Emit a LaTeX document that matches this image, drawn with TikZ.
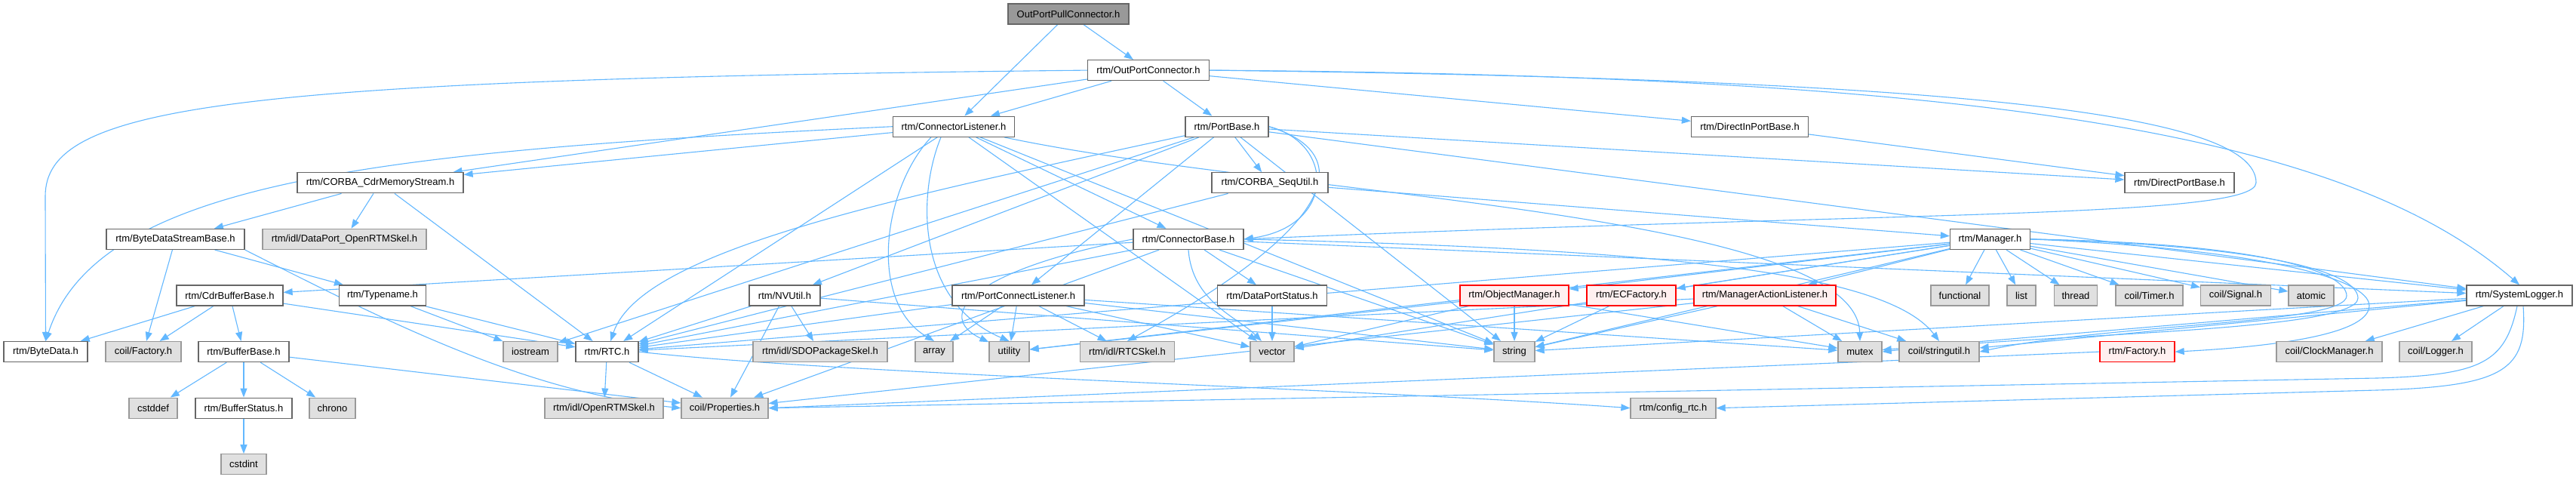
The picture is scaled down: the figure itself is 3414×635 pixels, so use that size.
\documentclass[tikz,border=0pt]{standalone}
\usepackage{fontspec}
\setmainfont{Liberation Sans}
\usetikzlibrary{arrows.meta,backgrounds}
\definecolor{edgeblue}{HTML}{63B8FF}
\definecolor{wborder}{HTML}{666666}
\definecolor{gfill}{HTML}{E0E0E0}
\definecolor{gborder}{HTML}{999999}
\definecolor{rfill}{HTML}{FFF0F0}
\definecolor{rborder}{HTML}{FF0000}
\definecolor{rootfill}{HTML}{999999}
\begin{document}
\begin{tikzpicture}[x=1pt,y=-1pt,
  nbase/.style={rectangle, minimum height=27pt, inner sep=0pt, font=\fontsize{13}{15}\selectfont, line width=1.3pt},
  wn/.style={nbase, draw=wborder, fill=white, minimum width=#1pt},
  gn/.style={nbase, draw=gborder, fill=gfill, minimum width=#1pt},
  rn/.style={nbase, draw=rborder, fill=rfill, minimum width=#1pt},
  rootn/.style={nbase, draw=wborder, fill=rootfill, minimum width=#1pt},
  lnk/.style={draw=edgeblue, line width=1.1pt, -{Triangle[length=12pt,width=9pt]}}]
\useasboundingbox (0,0) rectangle (3414,635);
% row 1
\node[rootn=160] (oppc) at (1416,18.5) {OutPortPullConnector.h};
% row 2
\node[wn=161] (opc) at (1522,93.1) {rtm/OutPortConnector.h};
% row 3
\node[wn=161] (cl) at (1264,167.7) {rtm/ConnectorListener.h};
\node[wn=110] (pb) at (1626,167.7) {rtm/PortBase.h};
\node[wn=155] (dipb) at (2319,167.7) {rtm/DirectInPortBase.h};
% row 4
\node[wn=220] (cdrms) at (504,242.3) {rtm/CORBA\_CdrMemoryStream.h};
\node[wn=154] (sequ) at (1683,242.3) {rtm/CORBA\_SeqUtil.h};
\node[wn=145] (dpb) at (2888.5,242.3) {rtm/DirectPortBase.h};
% row 5
\node[wn=183] (bdsb) at (232.5,316.9) {rtm/ByteDataStreamBase.h};
\node[gn=217] (dpskel) at (456.5,316.9) {rtm/idl/DataPort\_OpenRTMSkel.h};
\node[wn=146] (cb) at (1575,316.9) {rtm/ConnectorBase.h};
\node[wn=106] (mgr) at (2637.5,316.9) {rtm/Manager.h};
% row 6
\node[wn=141] (cbb) at (304.5,391.5) {rtm/CdrBufferBase.h};
\node[wn=115] (tn) at (507,391.5) {rtm/Typename.h};
\node[wn=94] (nvu) at (1040,391.5) {rtm/NVUtil.h};
\node[wn=175] (pcl) at (1349.5,391.5) {rtm/PortConnectListener.h};
\node[wn=145] (dps) at (1686,391.5) {rtm/DataPortStatus.h};
\node[rn=144] (om) at (2007,391.5) {rtm/ObjectManager.h};
\node[rn=118] (ecf) at (2162,391.5) {rtm/ECFactory.h};
\node[rn=188] (mal) at (2339,391.5) {rtm/ManagerActionListener.h};
\node[gn=77] (fun) at (2597.5,391.5) {functional};
\node[gn=38] (lst) at (2679,391.5) {list};
\node[gn=57] (thr) at (2751,391.5) {thread};
\node[gn=89] (tim) at (2848.5,391.5) {coil/Timer.h};
\node[gn=93] (sig) at (2963,391.5) {coil/Signal.h};
\node[gn=60] (ato) at (3063,391.5) {atomic};
\node[wn=140] (sl) at (3339,391.5) {rtm/SystemLogger.h};
% row 7
\node[wn=111] (bd) at (60.5,466.1) {rtm/ByteData.h};
\node[gn=100] (cfac) at (190,466.1) {coil/Factory.h};
\node[wn=120] (bb) at (323,466.1) {rtm/BufferBase.h};
\node[gn=72] (ios) at (703,466.1) {iostream};
\node[wn=83] (rtc) at (804.5,466.1) {rtm/RTC.h};
\node[gn=178] (sdo) at (1087,466.1) {rtm/idl/SDOPackageSkel.h};
\node[gn=50] (arr) at (1238,466.1) {array};
\node[gn=53] (uti) at (1337.5,466.1) {utility};
\node[gn=125] (rtcskel) at (1494,466.1) {rtm/idl/RTCSkel.h};
\node[gn=58] (vec) at (1686,466.1) {vector};
\node[gn=54] (str) at (2007,466.1) {string};
\node[gn=58] (mtx) at (2465,466.1) {mutex};
\node[gn=106] (su) at (2570,466.1) {coil/stringutil.h};
\node[rn=99] (rfac) at (2832.5,466.1) {rtm/Factory.h};
\node[gn=140] (clk) at (3087,466.1) {coil/ClockManager.h};
\node[gn=96] (lgr) at (3228,466.1) {coil/Logger.h};
% row 8
\node[gn=64] (cstddef) at (203,540.7) {cstddef};
\node[wn=128] (bs) at (323,540.7) {rtm/BufferStatus.h};
\node[gn=61] (chr) at (440.5,540.7) {chrono};
\node[gn=157] (ors) at (800.5,540.7) {rtm/idl/OpenRTMSkel.h};
\node[gn=115] (prop) at (960.5,540.7) {coil/Properties.h};
\node[gn=113] (cfg) at (2217.5,540.7) {rtm/config\_rtc.h};
% row 9
\node[gn=60] (cstdint) at (323,615.3) {cstdint};

\begin{pgfonlayer}{background}
\fill[white] (0,0) rectangle (3414,635);
% root
\draw[lnk] (oppc) -- (cl);
\draw[lnk] (oppc) -- (opc);
% OutPortConnector
\draw[lnk] (opc) -- (cl);
\draw[lnk] (opc) -- (pb);
\draw[lnk] (opc) -- (cdrms);
\draw[lnk] (opc.west) .. controls (300,105) and (60,140) .. (60,260) -- (bd.north);
\draw[lnk] (opc) -- (dipb);
\draw[lnk] (opc.east) .. controls (2600,100) and (3100,170) .. (sl.north);
\draw[lnk] (opc.east) .. controls (2600,105) and (2990,150) .. (2990,242) .. controls (2990,290) and (2500,280) .. (cb.east);
% ConnectorListener
\draw[lnk] (cl.west) .. controls (500,200) and (130,240) .. (bd.north);
\draw[lnk] (cl) -- (cdrms);
\draw[lnk] (cl) -- (rtc);
\draw[lnk] ([xshift=-30pt]cl.south) .. controls (1170,250) and (1150,400) .. (arr.north);
\draw[lnk] ([xshift=-17pt]cl.south) .. controls (1215,260) and (1215,400) .. (uti.north);
\draw[lnk] (cl) -- (vec);
\draw[lnk] (cl) -- (cb);
\draw[lnk] (cl) -- (str);
\draw[lnk] (cl) .. controls (1700,260) and (2460,280) .. (mtx.north);
% PortBase
\draw[lnk] (pb) -- (ios);
\draw[lnk] (pb) .. controls (1200,260) and (850,330) .. (rtc);
\draw[lnk] (pb) -- (nvu);
\draw[lnk] (pb) -- (pcl);
\draw[lnk] (pb) -- (sequ);
\draw[lnk] (pb) -- (dpb);
\draw[lnk] (pb.east) .. controls (1770,190) and (1770,300) .. (cb.east);
\draw[lnk] (pb.east) .. controls (1790,200) and (1790,290) .. (rtcskel.north);
\draw[lnk] (pb) -- (sl);
\draw[lnk] (pb) -- (str);
% DirectInPortBase
\draw[lnk] (dipb) -- (dpb);
% CORBA_SeqUtil
\draw[lnk] (sequ) -- (rtc);
\draw[lnk] (sequ) -- (mgr);
% CORBA_CdrMemoryStream
\draw[lnk] (cdrms) -- (bdsb);
\draw[lnk] (cdrms) -- (dpskel);
\draw[lnk] (cdrms) -- (rtc);
% ByteDataStreamBase
\draw[lnk] (bdsb) -- (cfac);
\draw[lnk] (bdsb) -- (tn);
\draw[lnk] (bdsb.south east) .. controls (520,430) and (700,520) .. (prop.west);
% ConnectorBase
\draw[lnk] (cb) -- (cbb);
\draw[lnk] (cb) -- (dps);
\draw[lnk] (cb.south) .. controls (1580,400) and (1640,420) .. (vec);
\draw[lnk] (cb) -- (rtc);
\draw[lnk] (cb) -- (prop);
\draw[lnk] (cb) -- (str);
\draw[lnk] (cb) -- (sl);
\draw[lnk] (cb.west) .. controls (1280,360) and (1240,420) .. (uti);
\draw[lnk] (cb.east) .. controls (2200,330) and (2500,360) .. (su.north);
% Manager
\draw[lnk] (mgr) -- (om);
\draw[lnk] (mgr) -- (ecf);
\draw[lnk] (mgr) -- (mal);
\draw[lnk] (mgr) -- (fun);
\draw[lnk] (mgr) -- (lst);
\draw[lnk] (mgr) -- (thr);
\draw[lnk] (mgr) -- (tim);
\draw[lnk] (mgr) -- (sig);
\draw[lnk] (mgr) -- (ato);
\draw[lnk] (mgr) -- (sl);
\draw[lnk] (mgr) -- (rtc);
\draw[lnk] (mgr) -- (vec);
\draw[lnk] (mgr) -- (str);
\draw[lnk] (mgr) -- (uti);
\draw[lnk] (mgr.east) .. controls (3000,322) and (3110,360) .. (3110,392) .. controls (3110,430) and (2800,428) .. (su.east);
\draw[lnk] (mgr.east) .. controls (3000,325) and (3125,360) .. (3125,395) .. controls (3125,440) and (2700,442) .. (mtx.east);
\draw[lnk] (mgr.east) .. controls (3000,330) and (3140,370) .. (3140,405) .. controls (3140,445) and (3000,460) .. (rfac.east);
% CdrBufferBase
\draw[lnk] (cbb) -- (bd);
\draw[lnk] (cbb) -- (cfac);
\draw[lnk] (cbb) -- (bb);
\draw[lnk] (cbb) -- (rtc);
% Typename
\draw[lnk] (tn) -- (rtc);
\draw[lnk] (tn) -- (ios);
% NVUtil
\draw[lnk] (nvu) -- (rtc);
\draw[lnk] (nvu) -- (prop);
\draw[lnk] (nvu) -- (sdo);
\draw[lnk] (nvu) -- (str);
% PortConnectListener
\draw[lnk] (pcl) -- (rtc);
\draw[lnk] (pcl) -- (arr);
\draw[lnk] (pcl) -- (uti);
\draw[lnk] (pcl) -- (rtcskel);
\draw[lnk] (pcl) -- (vec);
\draw[lnk] (pcl) -- (str);
\draw[lnk] (pcl) -- (mtx);
% DataPortStatus
\draw[lnk] (dps) -- (vec);
% ObjectManager
\draw[lnk] (om) -- (str);
\draw[lnk] (om) -- (vec);
\draw[lnk] (om) -- (mtx);
\draw[lnk] (om) -- (uti);
% ECFactory
\draw[lnk] (ecf) -- (str);
% ManagerActionListener
\draw[lnk] (mal) -- (str);
\draw[lnk] (mal) -- (mtx);
\draw[lnk] (mal) -- (su);
\draw[lnk] (mal) -- (prop);
\draw[lnk] (mal) -- (rtc);
% SystemLogger
\draw[lnk] (sl) -- (clk);
\draw[lnk] (sl) -- (lgr);
\draw[lnk] ([xshift=-3pt]sl.south) .. controls (3320,480) and (3290,497) .. (3150,501) -- (prop.east);
\draw[lnk] ([xshift=5pt]sl.south) .. controls (3350,490) and (3320,512) .. (3150,517) -- (cfg.east);
\draw[lnk] (sl) -- (mtx);
\draw[lnk] (sl) -- (su);
\draw[lnk] (sl) -- (str);
% BufferBase
\draw[lnk] (bb) -- (cstddef);
\draw[lnk] (bb) -- (bs);
\draw[lnk] (bb) -- (chr);
\draw[lnk] (bb) -- (prop);
\draw[lnk] (bs) -- (cstdint);
% RTC
\draw[lnk] (rtc) -- (ors);
\draw[lnk] (rtc) -- (prop);
\draw[lnk] (rtc.east) .. controls (1100,495) and (1800,515) .. (cfg.west);
% rtm/Factory
\draw[lnk] (rfac.west) -- (prop.east);
\end{pgfonlayer}
\end{tikzpicture}
\end{document}
